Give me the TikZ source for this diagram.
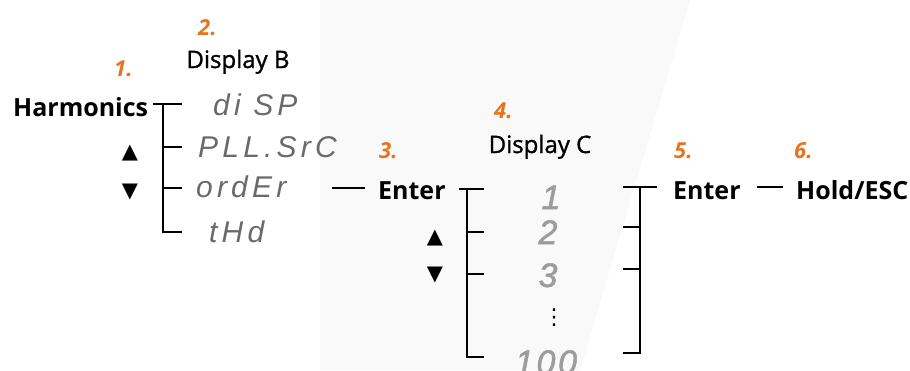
\documentclass[tikz,border=0pt]{standalone}
\usepackage{fontspec}
\setmainfont{Open Sans}
\newfontfamily\headfont[FakeBold=1.2]{Open Sans}
\newfontfamily\segfont[LetterSpace=14]{Liberation Sans}
\newfontfamily\digfont[LetterSpace=8,FakeBold=1.5]{Liberation Sans}
\newfontfamily\symfont{DejaVu Sans}
\definecolor{lblorange}{HTML}{E8731E}
\definecolor{seggray}{HTML}{6A6A6A}
\definecolor{diggray}{HTML}{9C9C9C}
\definecolor{bgtint}{HTML}{F9F9F9}
\begin{document}
\begin{tikzpicture}[x=1pt,y=-1pt,line width=2.4pt,line join=miter,
  title/.style={font=\fontsize{25}{25}\selectfont\bfseries,inner sep=0pt,anchor=base west},
  head/.style={font=\headfont\fontsize{24}{24}\selectfont,inner sep=0pt,anchor=base},
  num/.style={font=\fontsize{22}{22}\selectfont\bfseries\itshape,text=lblorange,inner sep=0pt,anchor=base west},
  seg/.style={font=\segfont\fontsize{30}{30}\selectfont\itshape,text=seggray,inner sep=0pt,anchor=base west},
  dig/.style={font=\digfont\fontsize{34}{34}\selectfont\itshape,text=diggray,inner sep=0pt,anchor=base},
  tri/.style={font=\symfont\fontsize{21}{21}\selectfont,inner sep=0pt,anchor=center}]
\useasboundingbox (0,0) rectangle (910,370);
\fill[white] (0,0) rectangle (910,370);
\fill[bgtint] (320,0) -- (690,0) -- (580,370) -- (320,370) -- cycle;

% labels
\node[num] (n1) at (113,76) {1.};
\node[num] (n2) at (197,35) {2.};
\node[num] (n3) at (378,158) {3.};
\node[num] (n4) at (493,118) {4.};
\node[num] (n5) at (673,158) {5.};
\node[num] (n6) at (793,158) {6.};

% headings
\node[head] (dB) at (238,68) {Display B};
\node[head] (dC) at (540,153) {Display C};

% main words
\node[title] (harm) at (12,116) {Harmonics};
\node[title] (ent1) at (377,199) {Enter};
\node[title] (ent2) at (672,199) {Enter};
\node[title] (hold) at (795,199) {Hold/ESC};

% display B items
\node[seg] (disp) at (212,115) {di SP};
\node[seg] (pll) at (197,157) {PLL.SrC};
\node[seg] (ord) at (195,197) {ordEr};
\node[seg] (thd) at (208,242) {tHd};

% display C items
\node[dig] (d1) at (551,209) {1};
\node[dig] (d2) at (548,244) {2};
\node[dig] (d3) at (548,287) {3};
\node[font=\symfont\fontsize{22}{22}\selectfont,inner sep=0pt] (dots) at (554,318) {⋮};
\node[dig] (d100) at (546,374) {100};

% arrows
\node[tri] (up1) at (130,153) {▲};
\node[tri] (dn1) at (130,192) {▼};
\node[tri] (up2) at (435,238) {▲};
\node[tri] (dn2) at (435,275) {▼};

% bracket 1
\coordinate (b1j) at (163,104);
\coordinate (b1a) at (182,104);
\coordinate (b1b) at (182,147);
\coordinate (b1c) at (182,188);
\coordinate (b1d) at (182,232);
\draw ([xshift=4pt]harm.east |- b1a) -- (b1a);
\draw (b1j) |- (b1d);
\draw (b1j |- b1b) -- (b1b);
\draw (b1j |- b1c) -- (b1c);

% order -> Enter
\coordinate (l1s) at (332,188);
\draw (l1s) -- ([xshift=-12pt]ent1.west |- l1s);

% bracket 2
\coordinate (b2j) at (467,189);
\coordinate (b2a) at (484,189);
\coordinate (b2b) at (484,232);
\coordinate (b2c) at (484,274);
\coordinate (b2d) at (484,357);
\draw ([xshift=12pt]ent1.east |- b2a) -- (b2a);
\draw (b2j) |- (b2d);
\draw (b2j |- b2b) -- (b2b);
\draw (b2j |- b2c) -- (b2c);

% bracket 3
\coordinate (b3j) at (640,187);
\coordinate (b3a) at (623,187);
\coordinate (b3b) at (623,227);
\coordinate (b3c) at (623,269);
\coordinate (b3d) at (623,353);
\draw (b3a) -- ([xshift=-15pt]ent2.west |- b3a);
\draw (b3j) |- (b3d);
\draw (b3b) -- (b3j |- b3b);
\draw (b3c) -- (b3j |- b3c);

% Enter -> Hold/ESC
\draw ([xshift=15pt]ent2.east |- b3a) -- ([xshift=-12pt]hold.west |- b3a);
\end{tikzpicture}
\end{document}
